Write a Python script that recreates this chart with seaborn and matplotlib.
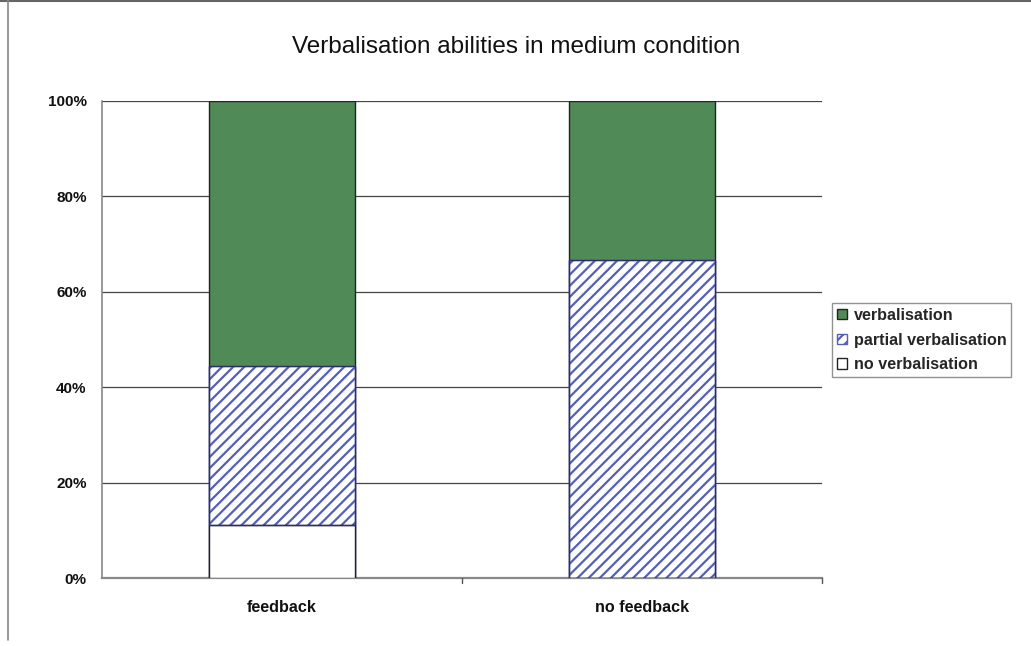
import numpy as np
import pandas as pd
import matplotlib
matplotlib.use("Agg")
import matplotlib.pyplot as plt
import seaborn as sns
from matplotlib.lines import Line2D
from matplotlib.ticker import FuncFormatter

# Share of participants (%) per condition
conditions = ["feedback", "no feedback"]
no_verbalisation = [11.1, 0.0]
partial_verbalisation = [33.3, 66.7]
verbalisation = [55.6, 33.3]

series_labels = ["verbalisation", "partial verbalisation", "no verbalisation"]

sns.set_theme(style="white")
plt.rcParams["font.family"] = ["Liberation Sans", "DejaVu Sans"]
plt.rcParams["hatch.linewidth"] = 1.6

green = "#4f8a57"
hatch_blue = "#5460b8"

# Cumulative tops so each layer can be drawn over the previous one
top_none = np.array(no_verbalisation)
top_partial = top_none + np.array(partial_verbalisation)
top_verb = top_partial + np.array(verbalisation)

df = pd.DataFrame({
    "condition": conditions,
    "top_verb": top_verb,
    "top_partial": top_partial,
    "top_none": top_none,
})

fig = plt.figure(figsize=(10.31, 6.46), dpi=100)
ax = fig.add_axes([102 / 1031, 1 - 578 / 646, 720 / 1031, 477 / 646])

sns.barplot(data=df, x="condition", y="top_verb", color=green, saturation=1,
            width=0.405, edgecolor="#222222", linewidth=1.0, ax=ax, zorder=3)
sns.barplot(data=df, x="condition", y="top_partial", color="white", saturation=1,
            width=0.405, edgecolor=hatch_blue, linewidth=1.0, hatch="///",
            ax=ax, zorder=3)
sns.barplot(data=df, x="condition", y="top_none", color="white", saturation=1,
            width=0.405, edgecolor="#222222", linewidth=1.0, ax=ax, zorder=3)

# Outline the hatched segments with a dark edge
for i in range(len(conditions)):
    lo, hi = top_none[i], top_partial[i]
    if hi - lo > 0:
        ax.add_patch(plt.Rectangle((i - 0.2025, lo), 0.405, hi - lo,
                                   fill=False, edgecolor="#2a2f66",
                                   linewidth=1.0, zorder=4))

ax.set_xlim(-0.5, 1.5)
ax.set_ylim(0, 100)
ax.set_yticks([0, 20, 40, 60, 80, 100])
ax.yaxis.set_major_formatter(FuncFormatter(lambda v, p: f"{int(v)}%"))
ax.grid(axis="y", color="#444444", linewidth=0.9, zorder=0)
ax.set_axisbelow(True)

ax.set_xlabel("")
ax.set_ylabel("")
ax.set_xticks([0, 1])
ax.set_xticklabels(conditions, fontsize=11.6, fontweight="bold")
ax.tick_params(axis="x", length=0, pad=16, colors="#111111")
ax.tick_params(axis="y", length=5, width=1, direction="out", pad=6,
               colors="#333333", labelcolor="#111111")
for lab in ax.get_yticklabels():
    lab.set_fontsize(11)
    lab.set_fontweight("bold")

# Category boundary tick marks on the x axis
for xb in [0.5, 1.5]:
    ax.plot([xb, xb], [0, -1.1], color="#555555", linewidth=1,
            clip_on=False, zorder=5)

for side in ["top", "right"]:
    ax.spines[side].set_visible(False)
ax.spines["left"].set_color("#888888")
ax.spines["bottom"].set_color("#888888")
ax.spines["left"].set_linewidth(1.2)
ax.spines["bottom"].set_linewidth(1.6)

fig.text(516 / 1031, 1 - 47 / 646, "Verbalisation abilities in medium condition",
         ha="center", va="center", fontsize=17.5, color="#111111")

# Legend in series order from top of the stack
cont = ax.containers
handles = [cont[0].patches[0], cont[1].patches[0], cont[2].patches[0]]
leg = fig.legend(handles, series_labels, loc="upper left",
                 bbox_to_anchor=(832 / 1031, 1 - 303 / 646),
                 bbox_transform=fig.transFigure, borderaxespad=0,
                 prop={"size": 11.6, "weight": "bold"}, frameon=True,
                 fancybox=False, edgecolor="#777777", handlelength=0.6,
                 handleheight=0.6, handletextpad=0.45, borderpad=0.3,
                 labelspacing=0.6)
leg.get_frame().set_linewidth(1.0)

# Page frame lines along top and left edge
fig.add_artist(Line2D([0, 1], [1 - 1 / 646, 1 - 1 / 646], color="#666666",
                      linewidth=1.5, transform=fig.transFigure))
fig.add_artist(Line2D([8 / 1031, 8 / 1031], [1, 1 - 640 / 646], color="#888888",
                      linewidth=1.2, transform=fig.transFigure))

fig.savefig("out.png", dpi=100, facecolor="white")
